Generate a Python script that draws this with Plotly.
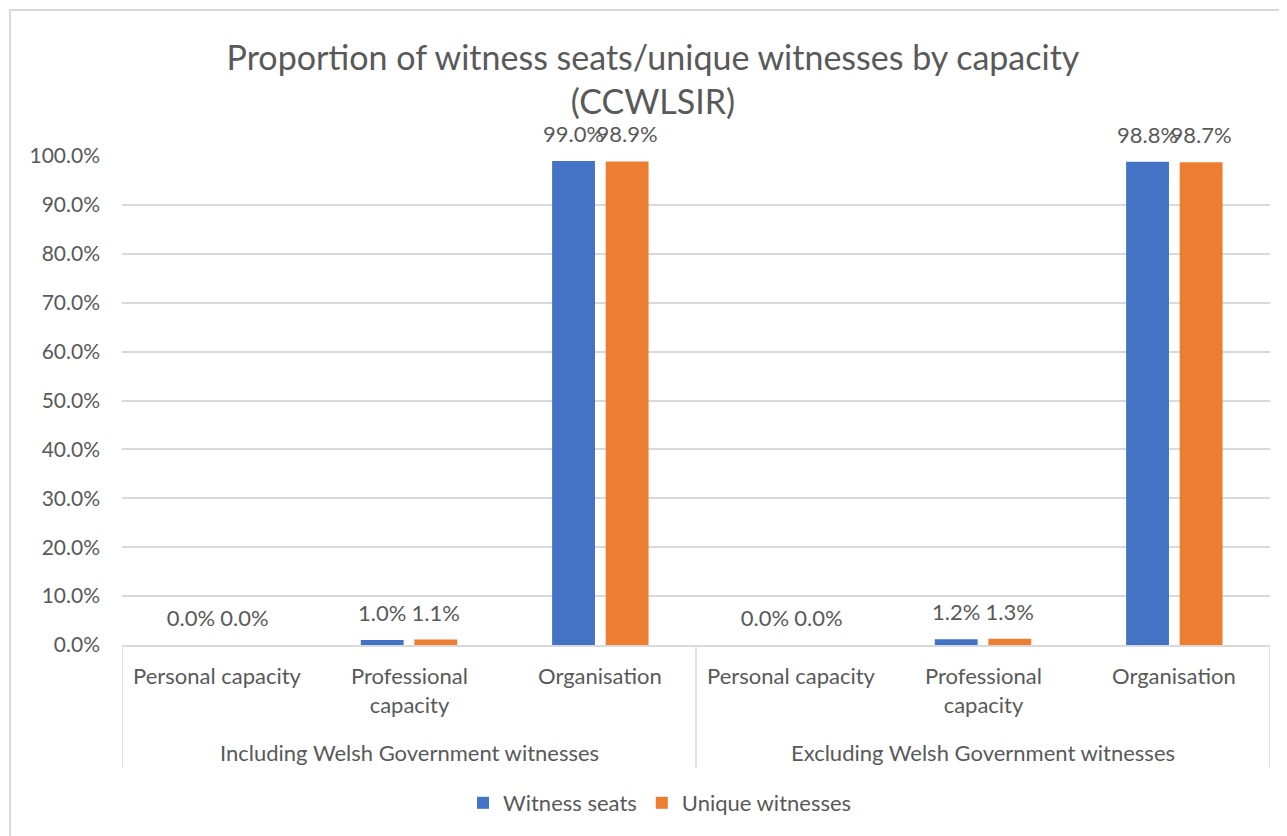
import plotly.graph_objects as go

groups = ["Including Welsh Government witnesses", "Excluding Welsh Government witnesses"]
capacities = ["Personal capacity", "Professional<br>capacity", "Organisation"]
witness_seats = [0.0, 0.010, 0.990, 0.0, 0.012, 0.988]
unique_witnesses = [0.0, 0.011, 0.989, 0.0, 0.013, 0.987]

OFF = 8  # page body margin
W, H = 1287 - OFF, 836 - OFF
ML, MR, MT, MB = 122 - OFF, 17, 156 - OFF, 191
PW, PH = W - ML - MR, H - MT - MB
FONT = "Lato"
GREY = "#595959"
LINE = "#d9d9d9"

def py(pix):  # reference pixel y -> paper y
    return (MT + PH - (pix - OFF)) / PH

def px(pix):
    return (pix - OFF - ML) / PW

xs = list(range(len(groups) * len(capacities)))
series = [("Witness seats", witness_seats, "#4472C4"),
          ("Unique witnesses", unique_witnesses, "#ED7D31")]

fig = go.Figure()
for name, vals, col in series:
    fig.add_trace(go.Bar(
        x=xs, y=vals, name=name, marker=dict(color=col, line=dict(width=0)),
        hoverinfo="skip",
    ))
for name, vals, col in series:
    fig.add_trace(go.Scatter(
        x=xs, y=vals, mode="markers+text", showlegend=False,
        marker=dict(size=20, opacity=0, color=col),
        text=[f"{v*100:.1f}%" for v in vals], textposition="top center",
        cliponaxis=False, hoverinfo="skip",
        textfont=dict(family=FONT, size=22, color=GREY),
    ))

annotations = []
for gi, g in enumerate(groups):
    for ci, c in enumerate(capacities):
        annotations.append(dict(x=gi * len(capacities) + ci, y=py(660), xref="x", yref="paper",
                                text=c, showarrow=False, yanchor="top",
                                font=dict(family=FONT, size=22, color=GREY)))
    annotations.append(dict(x=gi * len(capacities) + (len(capacities) - 1) / 2, y=py(752),
                            xref="x", yref="paper", text=g, showarrow=False, yanchor="middle",
                            font=dict(family=FONT, size=22, color=GREY)))

shapes = []
for xv in [-0.5, 2.5, 5.5]:
    shapes.append(dict(type="line", xref="x", yref="paper", x0=xv, x1=xv, y0=0, y1=py(768),
                       line=dict(color=LINE, width=1.5)))
shapes.append(dict(type="rect", xref="paper", yref="paper", x0=px(10), x1=px(1295),
                   y0=py(845), y1=py(10), line=dict(color=LINE, width=2), layer="below"))

fig.update_layout(
    width=W, height=H, margin=dict(l=ML, r=MR, t=MT, b=MB),
    paper_bgcolor="white", plot_bgcolor="white",
    title=dict(text="Proportion of witness seats/unique witnesses by capacity<br>(CCWLSIR)",
               xref="paper", x=px(653), xanchor="center",
               y=1 - (70 - OFF) / H, yanchor="middle",
               font=dict(family=FONT, size=34, color=GREY)),
    barmode="group", bargap=0.44, bargroupgap=0.2,
    scattermode="group", scattergap=0.44,
    xaxis=dict(range=[-0.5, 5.5], showticklabels=False, showgrid=False, zeroline=False,
               showline=True, linecolor=LINE, linewidth=1.5, ticks=""),
    yaxis=dict(range=[0, 1.0], tickvals=[i / 10 for i in range(11)], tickformat=".1%",
               showgrid=True, gridcolor=LINE, gridwidth=1.5, zeroline=False, showline=False,
               tickfont=dict(family=FONT, size=21, color=GREY), ticklabelstandoff=21),
    legend=dict(orientation="h", x=px(660), xanchor="center", y=py(803), yanchor="middle",
                font=dict(family=FONT, size=22, color=GREY), itemwidth=30),
    annotations=annotations, shapes=shapes, showlegend=True,
)

fig.write_html("out.html")
